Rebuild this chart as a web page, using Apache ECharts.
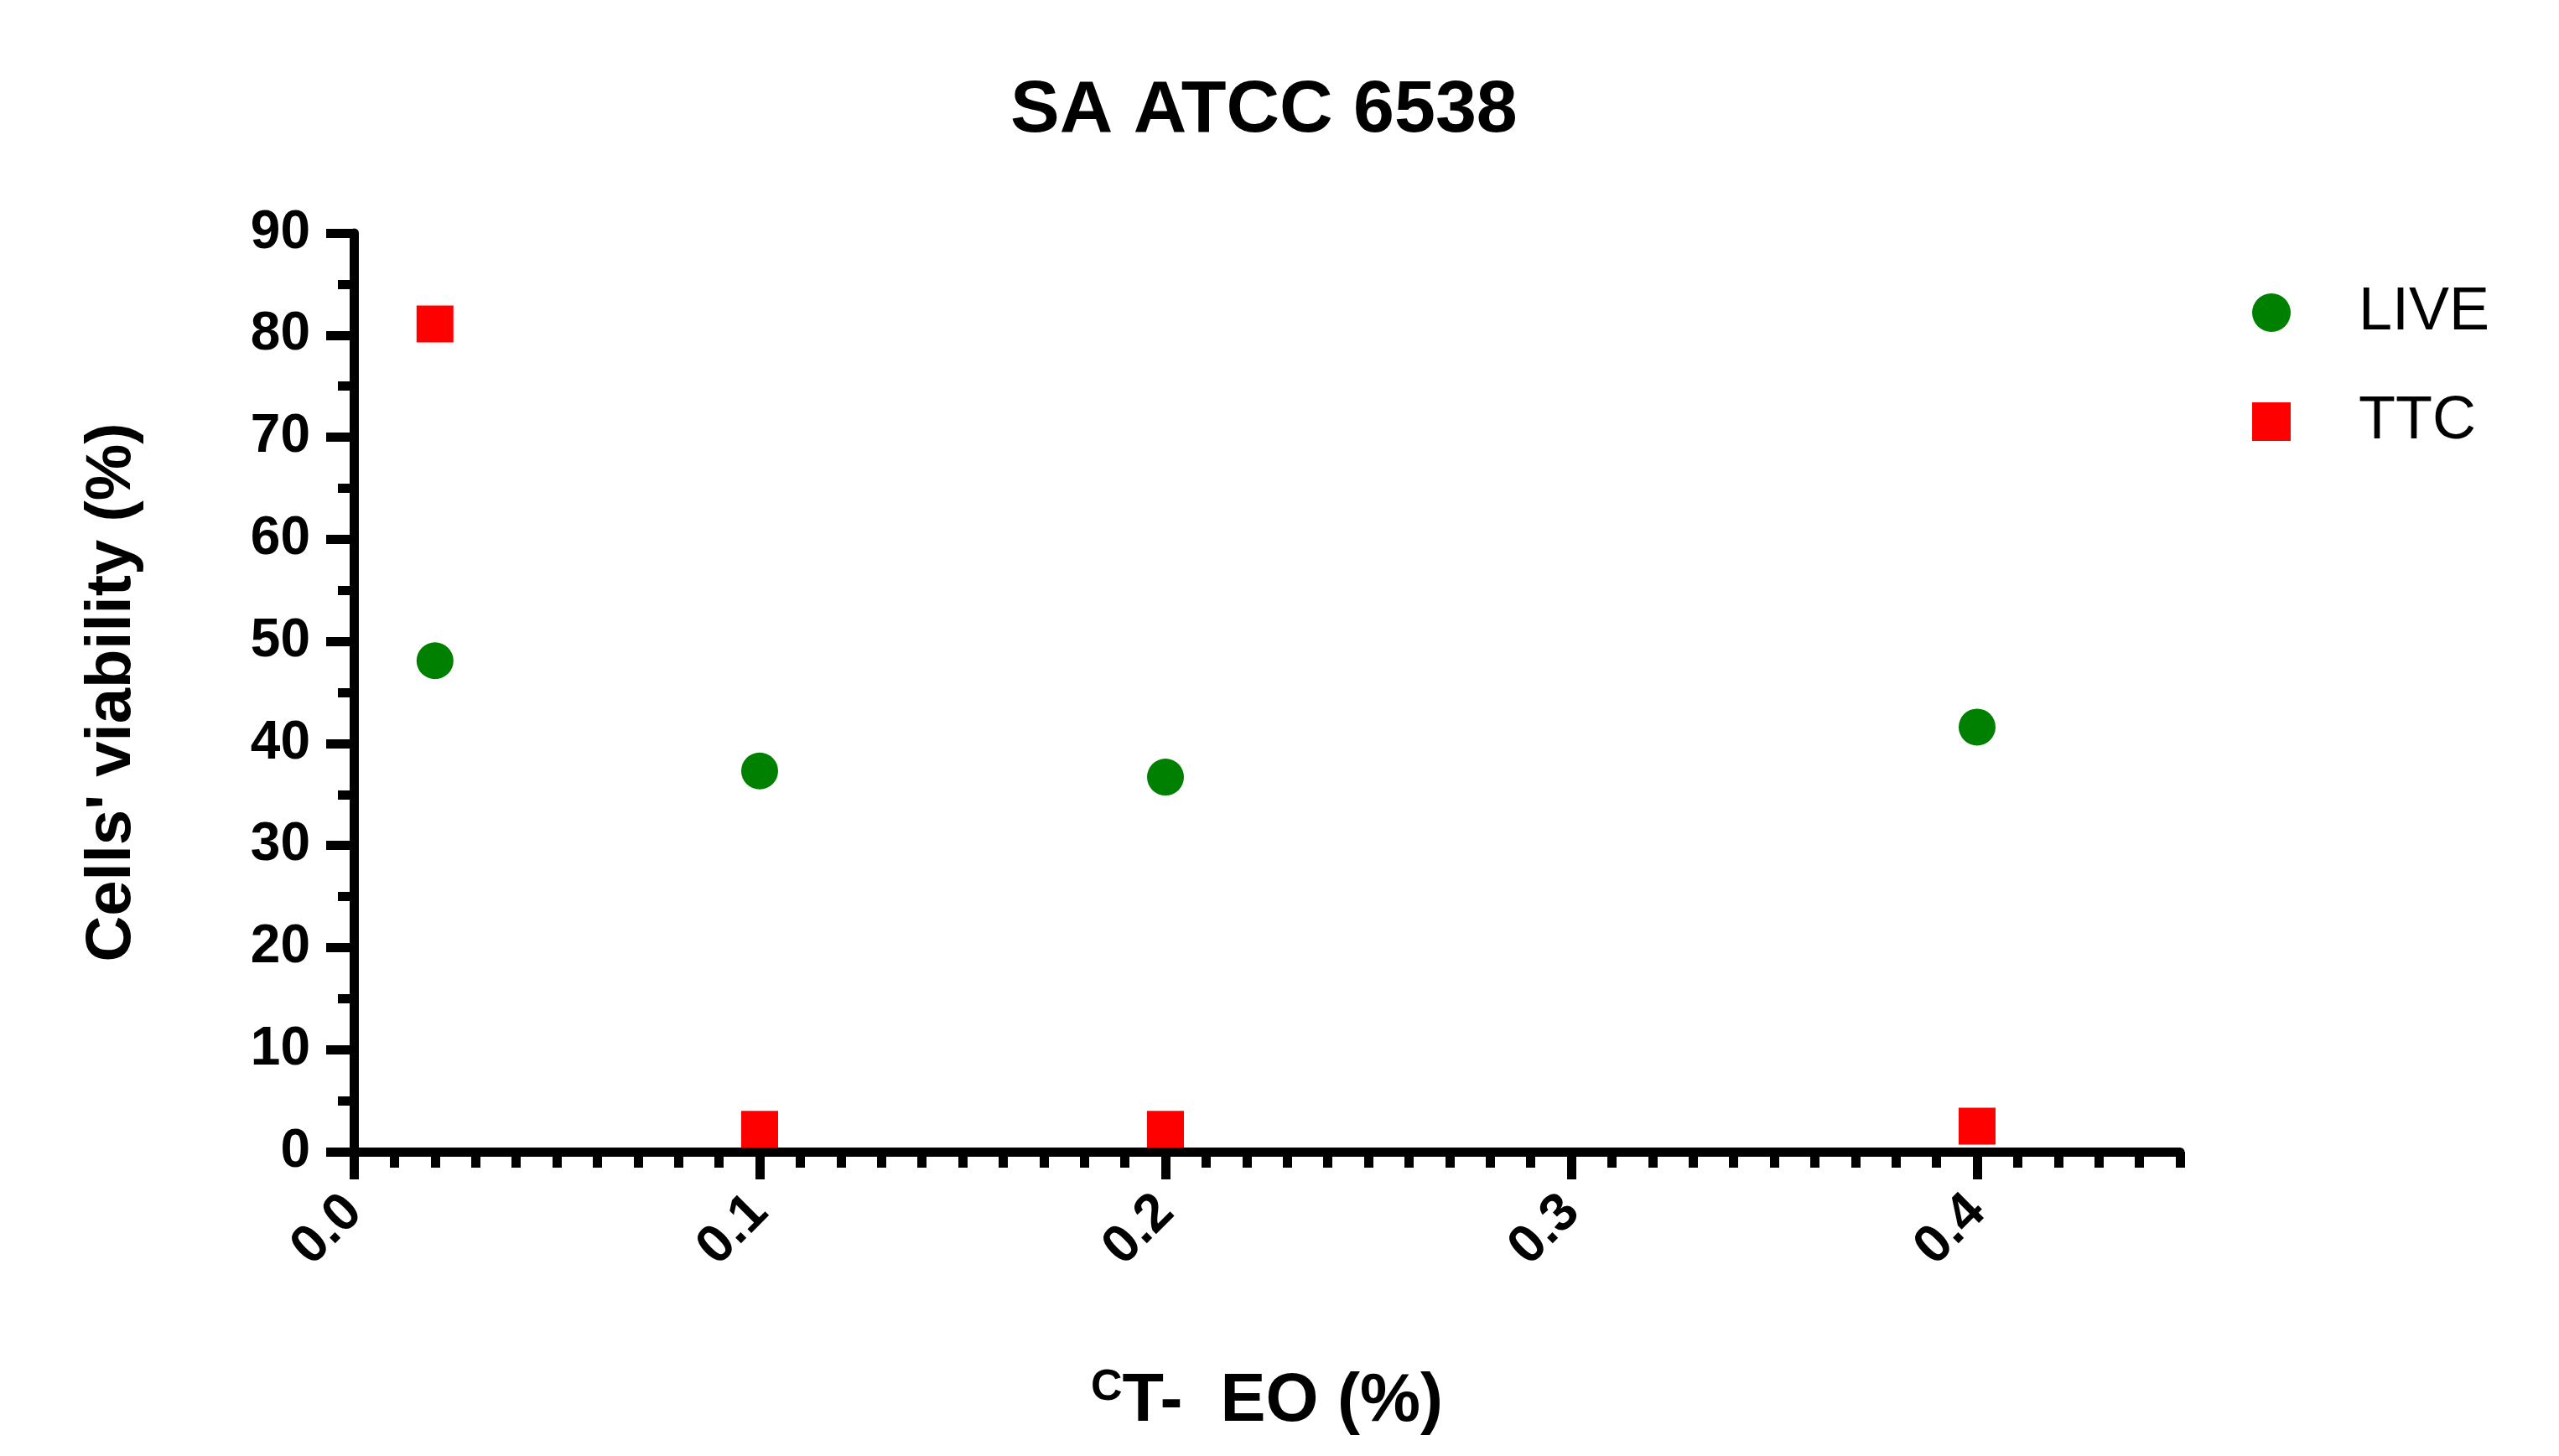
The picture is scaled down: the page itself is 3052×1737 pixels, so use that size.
<!DOCTYPE html>
<html>
<head>
<meta charset="utf-8">
<script src="https://cdn.jsdelivr.net/npm/echarts@6/dist/echarts.min.js"></script>
<style>
html,body{margin:0;padding:0;background:#fff;}
#chart{width:3052px;height:1737px;}
</style>
</head>
<body>
<div id="chart"></div>
<script>
const titleText = 'SA ATCC 6538';
const concentrations = [0.02, 0.1, 0.2, 0.4];
const liveValues = [48.1, 37.3, 36.7, 41.6];
const ttcValues = [81.1, 2.2, 2.2, 2.5];
const xMajorTicks = [0, 0.1, 0.2, 0.3, 0.4];
const xMinorTicks = [];
for (let i = 1; i <= 45; i++) { if (i % 10 !== 0) xMinorTicks.push(i / 100); }
const FONT = '"Liberation Sans", Arial, sans-serif';

const chart = echarts.init(document.getElementById('chart'));
const axisLineStyle = { color: '#000', width: 11 };
chart.setOption({
  backgroundColor: '#fff',
  animation: false,
  title: {
    text: titleText,
    left: 1200, top: 84,
    textStyle: { fontFamily: FONT, fontWeight: 'bold', fontSize: 88, color: '#000' }
  },
  legend: {
    left: 2681, top: 332, orient: 'vertical',
    itemWidth: 46, itemHeight: 46, itemGap: 58,
    textStyle: { fontFamily: FONT, fontSize: 72, color: '#000', lineHeight: 60, padding: [0,0,0,76] },
    data: ['LIVE', 'TTC']
  },
  grid: { left: 422, right: 452, top: 278, bottom: 363, containLabel: false },
  xAxis: [{
    type: 'value', min: 0, max: 0.45,
    axisLine: { lineStyle: axisLineStyle },
    axisTick: { show: true, length: 33, lineStyle: { width: 11, color: '#000' }, customValues: xMajorTicks },
    axisLabel: { customValues: xMajorTicks, rotate: 45, margin: 62, fontFamily: FONT, fontWeight: 'bold', fontSize: 64, color: '#000',
      formatter: v => v.toFixed(1) },
    splitLine: { show: false },
    name: '{sup|C}{m|T-  EO (%)}', nameLocation: 'middle', nameGap: 256,
    nameTextStyle: { rich: {
      sup: { fontFamily: FONT, fontWeight: 'bold', fontSize: 52, color: '#000', verticalAlign: 'top', padding: [0,0,34,0] },
      m: { fontFamily: FONT, fontWeight: 'bold', fontSize: 81, color: '#000' }
    } }
  }, {
    type: 'value', min: 0, max: 0.45, position: 'bottom',
    axisLine: { show: false },
    axisTick: { show: true, length: 19, lineStyle: { width: 11, color: '#000' }, customValues: xMinorTicks },
    axisLabel: { show: false },
    splitLine: { show: false }
  }],
  yAxis: {
    type: 'value', min: 0, max: 90, interval: 10,
    axisLine: { show: true, lineStyle: axisLineStyle },
    axisTick: { show: true, length: 33, lineStyle: { width: 11, color: '#000' } },
    minorTick: { show: true, splitNumber: 2, length: 19, lineStyle: { width: 11, color: '#000' } },
    axisLabel: { margin: 52, fontFamily: FONT, fontWeight: 'bold', fontSize: 64, color: '#000' },
    splitLine: { show: false },
    name: "Cells' viability (%)", nameLocation: 'middle', nameGap: 250,
    nameTextStyle: { fontFamily: FONT, fontWeight: 'bold', fontSize: 76, color: '#000' }
  },
  series: [{
    name: 'LIVE', type: 'scatter', symbol: 'circle', symbolSize: 44,
    itemStyle: { color: '#008000', opacity: 1 },
    data: concentrations.map((c, i) => [c, liveValues[i]])
  }, {
    name: 'TTC', type: 'scatter', symbol: 'rect', symbolSize: 44,
    itemStyle: { color: '#ff0000', opacity: 1 },
    data: concentrations.map((c, i) => [c, ttcValues[i]])
  }]
});
</script>
</body>
</html>
